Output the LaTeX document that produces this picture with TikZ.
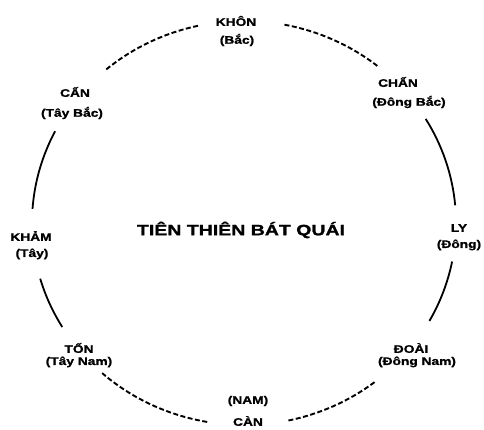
\documentclass[tikz,border=0pt]{standalone}
\usepackage{fontspec}
\newfontfamily\lblfont[FakeStretch=1.25,BoldFeatures={FakeBold=1.2}]{Liberation Sans}
\newfontfamily\ttlfont[FakeStretch=1.3,BoldFeatures={FakeBold=1.5}]{Liberation Sans}
\begin{document}
\begin{tikzpicture}[x=1pt,y=1pt,
  lbl/.style={inner sep=0pt, font=\lblfont\bfseries\fontsize{11}{12}\selectfont},
  ttl/.style={inner sep=0pt, font=\ttlfont\bfseries\fontsize{15}{16}\selectfont},
  ring/.style={x radius=212pt, y radius=202pt},
  dasharc/.style={ring, line width=1.9pt, dash pattern=on 5pt off 2.5pt},
  solidarc/.style={ring, line width=1.8pt}]
\useasboundingbox (0,0) rectangle (484,430);
\coordinate (c) at (244,207);
% labels
\node[lbl] (khon) at (236,409) {KHÔN};
\node[lbl] (khonb) at (237,390) {(Bắc)};
\node[lbl] (chan) at (398,348) {CHẤN};
\node[lbl] (chanb) at (409,328) {(Đông Bắc)};
\node[lbl] (ly) at (459,202) {LY};
\node[lbl] (lyb) at (459,185) {(Đông)};
\node[lbl] (doai) at (411,82) {ĐOÀI};
\node[lbl] (doaib) at (417,68) {(Đông Nam)};
\node[lbl] (canb) at (248,29) {(NAM)};
\node[lbl] (can) at (248,9) {CÀN};
\node[lbl] (ton) at (79,82) {TỐN};
\node[lbl] (tonb) at (79,68) {(Tây Nam)};
\node[lbl] (kham) at (31,194) {KHẢM};
\node[lbl] (khamb) at (32,176) {(Tây)};
\node[lbl] (cann) at (75,338) {CẤN};
\node[lbl] (cannb) at (72,317) {(Tây Bắc)};
\node[ttl] (title) at (241,200) {TIÊN THIÊN BÁT QUÁI};
% arcs
\draw[dasharc] (c) ++(130.5:212pt and 202pt) arc[start angle=130.5, end angle=102];
\draw[dasharc] (c) ++(79:212pt and 202pt) arc[start angle=79, end angle=51];
\draw[solidarc] (c) ++(31:212pt and 202pt) arc[start angle=31, end angle=5];
\draw[solidarc] (c) ++(-11:212pt and 202pt) arc[start angle=-11, end angle=-29];
\draw[dasharc] (c) ++(-52:212pt and 202pt) arc[start angle=-52, end angle=-78];
\draw[dasharc] (c) ++(-100:212pt and 202pt) arc[start angle=-100, end angle=-132];
\draw[solidarc] (c) ++(-149:212pt and 202pt) arc[start angle=-149, end angle=-164];
\draw[solidarc] (c) ++(176:212pt and 202pt) arc[start angle=176, end angle=153];
\end{tikzpicture}
\end{document}
